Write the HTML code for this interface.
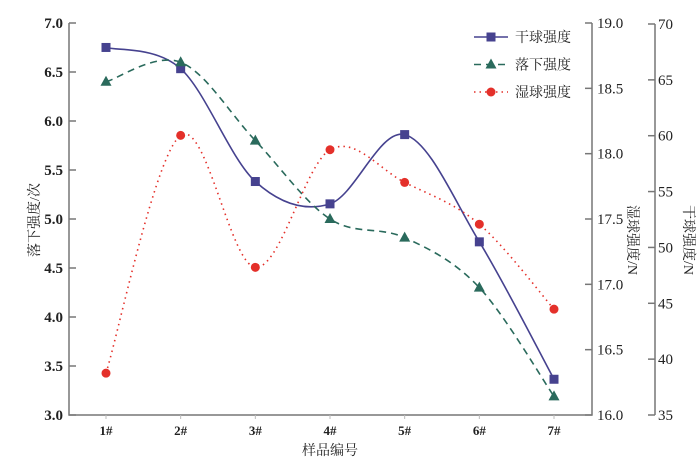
<!DOCTYPE html>
<html><head><meta charset="utf-8"><style>
body{margin:0;background:#fff}
svg{display:block;font-family:"Liberation Serif","Noto Serif CJK SC",serif}
</style></head><body>
<svg id="c" width="700" height="462"></svg>
<script>
const categories=["1#","2#","3#","4#","5#","6#","7#"];
const dropValues=[6.40,6.60,5.80,5.00,4.81,4.30,3.19];
const wetValues=[16.32,18.14,17.13,18.03,17.78,17.46,16.81];
const dryValues=[67.9,66.0,55.9,53.9,60.1,50.5,38.2];
const leftTicks=[3.0,3.5,4.0,4.5,5.0,5.5,6.0,6.5,7.0];
const wetTicks=[16.0,16.5,17.0,17.5,18.0,18.5,19.0];
const dryTicks=[35,40,45,50,55,60,65,70];

const NS="http://www.w3.org/2000/svg";
const svg=document.getElementById('c');
const X0=69,X1=592,Y0=415,Y1=23;
const xs=i=>106+i*(554-106)/6;
const yL=v=>Y0-(v-3)/4*(Y0-Y1);
const yW=v=>Y0-(v-16)/3*(Y0-Y1);
const yD=v=>Y0-(v-35)/35*(Y0-24);
function el(t,a,txt){const e=document.createElementNS(NS,t);for(const k in a)e.setAttribute(k,a[k]);if(txt!=null)e.textContent=txt;svg.appendChild(e);return e;}
let e;
e=el('path',{d:`M${X0} ${Y1}V${Y0}H${X1}V${Y1}`,fill:'none',stroke:'#777','stroke-width':1.5});


e=el('line',{x1:655,y1:24,x2:655,y2:Y0,stroke:'#777','stroke-width':1.5});


leftTicks.forEach(v=>{const y=yL(v);
 el('line',{x1:X0,x2:X0+7,y1:y,y2:y,stroke:'#777','stroke-width':1.5});
 e=el('text',{x:X0-6,y:y+5,'text-anchor':'end','font-size':15,'font-weight':'bold',fill:'#222'},v.toFixed(1));
 
 });
wetTicks.forEach(v=>{const y=yW(v);
 el('line',{x1:X1-7,x2:X1,y1:y,y2:y,stroke:'#777','stroke-width':1.5});
 e=el('text',{x:X1+5,y:y+5,'font-size':15,fill:'#222'},v.toFixed(1));
 
 });
dryTicks.forEach(v=>{const y=yD(v);
 el('line',{x1:648,x2:655,y1:y,y2:y,stroke:'#777','stroke-width':1.5});
 e=el('text',{x:658,y:y+5,'font-size':15,fill:'#222'},String(v));
 
 });
categories.forEach((c,i)=>{
 el('line',{x1:xs(i),x2:xs(i),y1:Y0,y2:Y0+4,stroke:'#bbb'});
 e=el('text',{x:xs(i),y:Y0+20,'text-anchor':'middle','font-size':13,'font-weight':'bold',fill:'#222'},c);
 
 });
e=el('text',{x:330,y:455,'text-anchor':'middle','font-size':14,fill:'#222'},'样品编号');


e=el('text',{x:0,y:0,transform:'translate(39,220) rotate(-90)','text-anchor':'middle','font-size':14,fill:'#222'},'落下强度/次');


e=el('text',{x:0,y:0,transform:'translate(628,240) rotate(90)','text-anchor':'middle','font-size':14,fill:'#222'},'湿球强度/N');


e=el('text',{x:0,y:0,transform:'translate(684,240) rotate(90)','text-anchor':'middle','font-size':14,fill:'#222'},'干球强度/N');


function spline(pts){let d=`M${pts[0][0]} ${pts[0][1]}`;
 for(let i=0;i<pts.length-1;i++){const p0=pts[i-1]||pts[i],p1=pts[i],p2=pts[i+1],p3=pts[i+2]||p2;const t=6;
  d+=`C${p1[0]+(p2[0]-p0[0])/t} ${p1[1]+(p2[1]-p0[1])/t} ${p2[0]-(p3[0]-p1[0])/t} ${p2[1]-(p3[1]-p1[1])/t} ${p2[0]} ${p2[1]}`;}
 return d;}
const series=[
 {name:'dry',vals:dryValues,f:yD,color:'#46428f',dash:'',m:'sq'},
 {name:'drop',vals:dropValues,f:yL,color:'#2a6a5c',dash:'7 5',m:'tri'},
 {name:'wet',vals:wetValues,f:yW,color:'#e4302a',dash:'1.5 4',m:'cir'}];
function marker(m,x,y,c){
 if(m==='sq')return el('rect',{x:x-4.5,y:y-4.5,width:9,height:9,fill:c});
 if(m==='tri')return el('path',{d:`M${x} ${y-6}L${x+5.5} ${y+4}L${x-5.5} ${y+4}Z`,fill:c});
 return el('circle',{cx:x,cy:y,r:4.5,fill:c});}
series.forEach(s=>{
 const pts=s.vals.map((v,i)=>[xs(i),s.f(v)]);
 e=el('path',{d:spline(pts),fill:'none',stroke:s.color,'stroke-width':1.6,'stroke-dasharray':s.dash});
 
 
 pts.forEach(p=>{e=marker(s.m,p[0],p[1],s.color);
  
  });
});
const legendNames=['干球强度','落下强度','湿球强度'];
series.forEach((s,i)=>{const y=37+i*27.5;
 el('line',{x1:474,x2:508,y1:y,y2:y,stroke:s.color,'stroke-width':1.6,'stroke-dasharray':s.dash});
 marker(s.m,491,y,s.color);
 e=el('text',{x:515,y:y+5,'font-size':14,fill:'#222'},legendNames[i]);
 
 });
</script>
</body></html>
